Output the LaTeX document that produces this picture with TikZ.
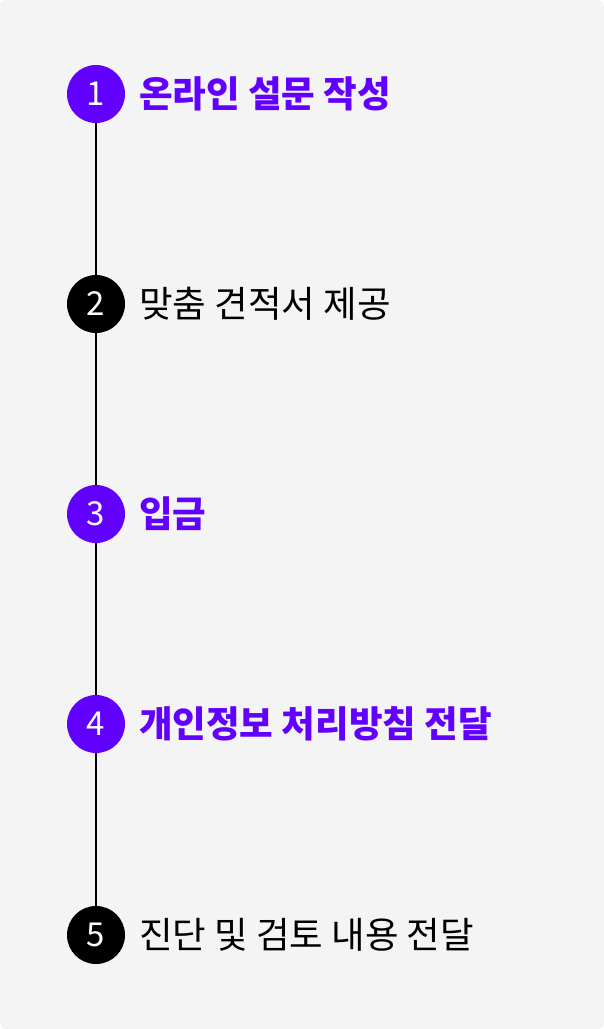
\documentclass[tikz,border=0pt]{standalone}
\usepackage{fontspec}
\setmainfont{Noto Sans CJK KR}
\definecolor{stepviolet}{HTML}{6200FF}
\definecolor{panelgray}{HTML}{F4F4F4}
\tikzset{
    stepdot/.style={circle,minimum size=58pt,inner sep=0pt,text=white,
        font=\fontsize{33}{36}\selectfont},
    steplabel/.style={anchor=base west,inner sep=0pt,
        font=\fontsize{36.5}{40}\selectfont},
    done/.style={text=stepviolet,font=\fontsize{36.5}{40}\selectfont\bfseries},
}
\begin{document}
\begin{tikzpicture}[x=1pt,y=-1pt]
    \useasboundingbox (0,0) rectangle (604,1029);
    % panel
    \draw[fill=panelgray,draw=black!8,rounded corners=6pt]
        (0.5,0.5) rectangle (603.5,1028.5);
    % steps
    \node[stepdot,fill=stepviolet] (s1) at (96,94) {1};
    \node[stepdot,fill=black]      (s2) at (96,304) {2};
    \node[stepdot,fill=stepviolet] (s3) at (96,514) {3};
    \node[stepdot,fill=stepviolet] (s4) at (96,724) {4};
    \node[stepdot,fill=black]      (s5) at (96,935) {5};
    % connectors
    \draw[line width=1.2pt] (s1) -- (s2);
    \draw[line width=1.2pt] (s2) -- (s3);
    \draw[line width=1.2pt] (s3) -- (s4);
    \draw[line width=1.2pt] (s4) -- (s5);
    % labels
    \node[steplabel,done] (t1) at (139,107) {온라인 설문 작성};
    \node[steplabel]      (t2) at (139,317) {맞춤 견적서 제공};
    \node[steplabel,done] (t3) at (139,527) {입금};
    \node[steplabel,done] (t4) at (139,737) {개인정보 처리방침 전달};
    \node[steplabel]      (t5) at (139,948) {진단 및 검토 내용 전달};
\end{tikzpicture}
\end{document}
